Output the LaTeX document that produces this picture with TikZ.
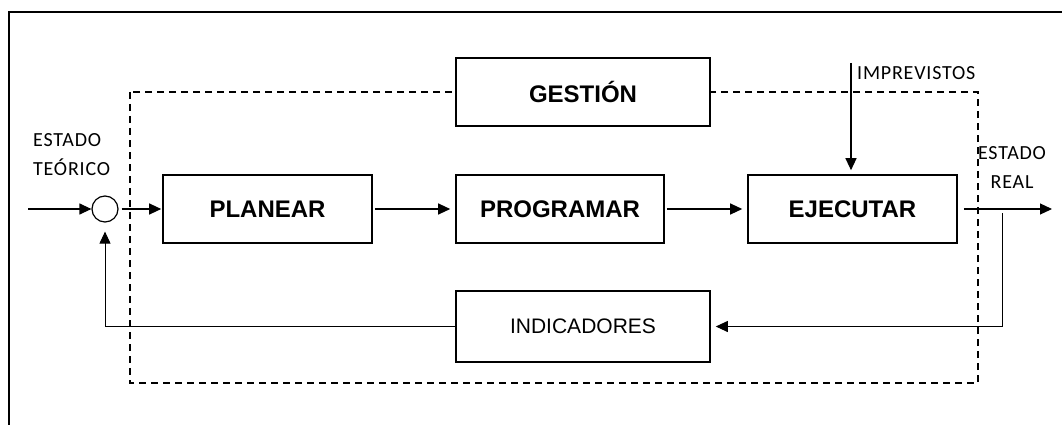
\documentclass[tikz,border=0pt]{standalone}
\usepackage{fontspec}
\setmainfont{Liberation Sans}
\newfontfamily\calib[LetterSpace=4]{Carlito}
\tikzset{bloque/.style={draw,fill=white,line width=1.6pt,minimum height=68pt,inner sep=0pt,font=\bfseries\fontsize{24}{27}\selectfont}}
\tikzset{etiqueta/.style={inner sep=0pt,font=\calib\fontsize{20}{29}\selectfont}}
\tikzset{flecha/.style={->,line width=1.2pt}}
\usetikzlibrary{arrows.meta}

\begin{document}
\begin{tikzpicture}[x=1pt,y=-1pt,>={Triangle[length=12pt,width=11pt]}]
\useasboundingbox (0,0) rectangle (1062,425);
\draw[line width=1.4pt] (9,426) -- (9,12) -- (1063,12);
\draw[dash pattern=on 7pt off 5pt,line width=1.1pt] (130,92) rectangle (978,383);
\node[bloque,minimum width=254pt] (gestion) at (583,92) {GESTIÓN};
\node[bloque,minimum width=209pt] (planear) at (267.5,209) {PLANEAR};
\node[bloque,minimum width=208pt] (programar) at (560,209) {PROGRAMAR};
\node[bloque,minimum width=209pt] (ejecutar) at (852.5,209) {EJECUTAR};
\node[bloque,minimum width=254pt,minimum height=71pt,font=\fontsize{21}{24}\selectfont] (indicadores) at (583,326.5) {INDICADORES};
\node[draw,circle,line width=1.2pt,minimum size=26pt,inner sep=0pt] (suma) at (105,209) {};
\coordinate (entrada) at (28,209);
\coordinate (salida) at (1052,209);
\coordinate (retorno) at (1002,213);
\coordinate (imprevisto) at (851,63);
\node[etiqueta,align=left,anchor=west] (teorico) at (33,155) {ESTADO\\TEÓRICO};
\node[etiqueta,align=center] (real) at (1012,168) {ESTADO\\REAL};
\node[etiqueta,anchor=west] (imprevistos) at (857,73) {IMPREVISTOS};
\draw[flecha] (entrada) -- (suma.west);
\draw[flecha,shorten <=3pt,shorten >=1pt] (suma.east) -- (planear.west);
\draw[flecha,shorten <=2pt,shorten >=5pt] (planear.east) -- (programar.west);
\draw[flecha,shorten <=2pt,shorten >=5pt] (programar.east) -- (ejecutar.west);
\draw[flecha,shorten <=6pt] (ejecutar.east) -- (salida);
\draw[flecha,shorten >=4pt] (imprevisto) -- (imprevisto |- ejecutar.north);
\draw[flecha,line width=1pt,shorten >=5pt] (retorno) |- (indicadores.east);
\draw[flecha,line width=1pt,shorten >=9pt] (indicadores.west) -| (suma.south);
\end{tikzpicture}
\end{document}
